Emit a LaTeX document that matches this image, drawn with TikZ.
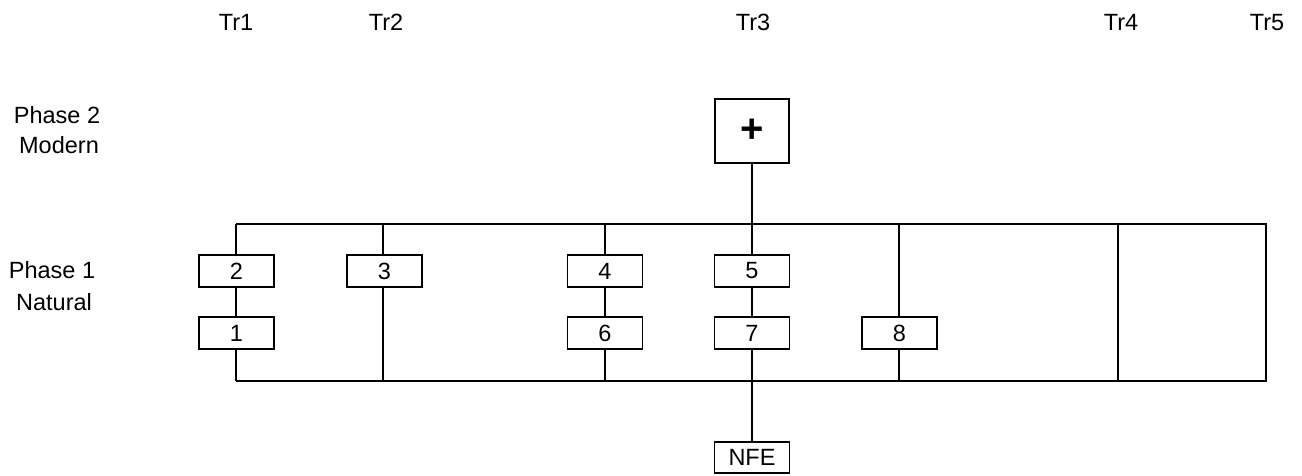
\documentclass[tikz,border=0pt]{standalone}
\usepackage{fontspec}
\setmainfont{Liberation Sans}
\begin{document}
\begin{tikzpicture}[x=1pt,y=-1pt,
  lbl/.style={font=\fontsize{23.5}{26}\selectfont, inner sep=0pt},
  box/.style={draw, line width=1.2pt, minimum width=75pt, minimum height=32pt, inner sep=0pt, font=\fontsize{23.5}{26}\selectfont},
  wire/.style={line width=1.2pt}]
\useasboundingbox (0,0) rectangle (1302,476);
% column labels
\node[lbl] (tr1) at (236,22.5) {Tr1};
\node[lbl] (tr2) at (386,22.5) {Tr2};
\node[lbl] (tr3) at (753,22.5) {Tr3};
\node[lbl] (tr4) at (1121,22.5) {Tr4};
\node[lbl] (tr5) at (1267,22.5) {Tr5};
% row labels
\node[lbl] (ph2) at (57,115) {Phase 2};
\node[lbl] (mod) at (59,145) {Modern};
\node[lbl] (ph1) at (52,270) {Phase 1};
\node[lbl] (nat) at (54,302) {Natural};
% boxes
\node[box, minimum width=74pt, minimum height=64pt, font=\fontsize{40}{42}\selectfont\bfseries] (plus) at (752,131) {+};
\node[box] (b2) at (236.5,271) {2};
\node[box] (b1) at (236.5,333) {1};
\node[box] (b3) at (384.5,271) {3};
\node[box] (b4) at (605,271) {4};
\node[box] (b6) at (605,333) {6};
\node[box] (b5) at (752,271) {5};
\node[box] (b7) at (752,333) {7};
\node[box] (b8) at (899.5,333) {8};
\node[box, minimum height=31pt] (nfe) at (752,457.5) {NFE};
% bus coordinates
\coordinate (tl) at (236,224);
\coordinate (tr) at (1266,224);
\coordinate (bl) at (236,381);
\coordinate (br) at (1266,381);
\coordinate (t2) at (383,224);
\coordinate (bb2) at (383,381);
\coordinate (t4) at (605,224);
\coordinate (bb4) at (605,381);
\coordinate (t5) at (752,224);
\coordinate (bb5) at (752,381);
\coordinate (t8) at (899,224);
\coordinate (bb8) at (899,381);
\coordinate (t9) at (1118,224);
\coordinate (bb9) at (1118,381);
% buses
\draw[wire] (tl) -- (tr) -- (br) -- (bl);
\draw[wire] (t9) -- (bb9);
% column 1
\draw[wire] (tl) -- (b2.north -| tl);
\draw[wire] (b2.south -| tl) -- (b1.north -| tl);
\draw[wire] (b1.south -| tl) -- (bl);
% column 2
\draw[wire] (t2) -- (b3.north -| t2);
\draw[wire] (b3.south -| t2) -- (bb2);
% column 4
\draw[wire] (t4) -- (b4.north);
\draw[wire] (b4) -- (b6);
\draw[wire] (b6.south) -- (bb4);
% column 5
\draw[wire] (plus.south) -- (t5) -- (b5.north);
\draw[wire] (b5) -- (b7);
\draw[wire] (b7.south) -- (bb5) -- (nfe.north);
% column 8
\draw[wire] (t8) -- (b8.north -| t8);
\draw[wire] (b8.south -| t8) -- (bb8);
\end{tikzpicture}
\end{document}
